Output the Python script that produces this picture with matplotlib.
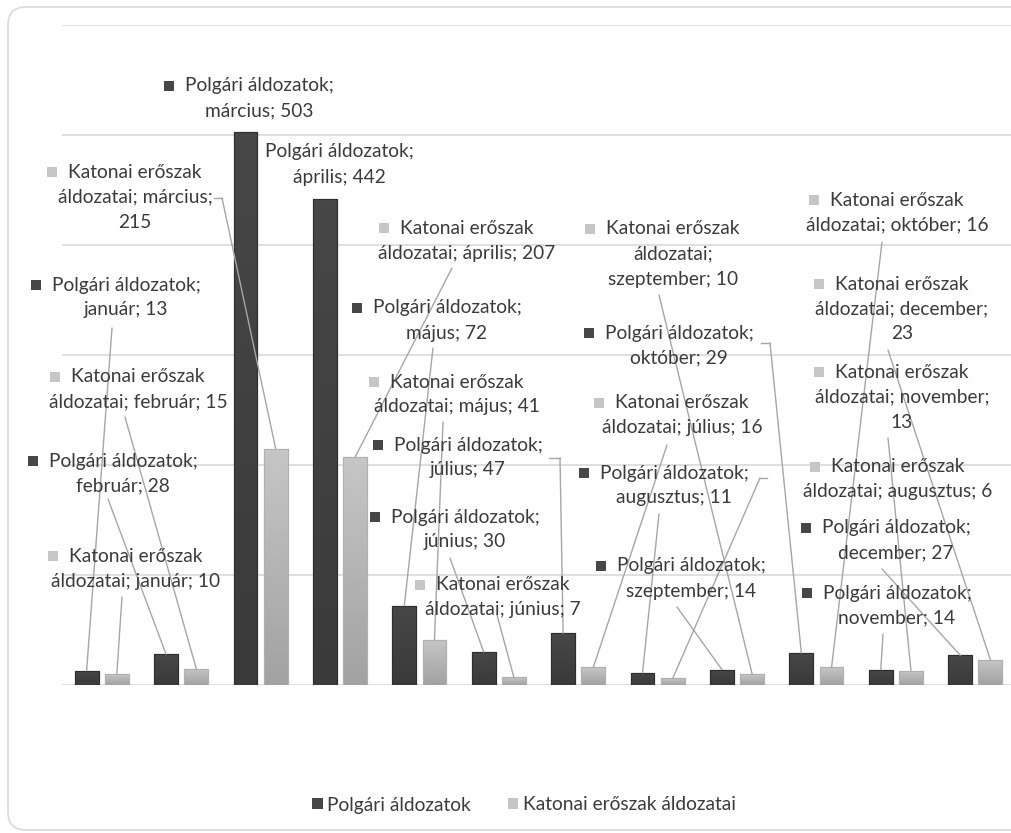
import numpy as np
import matplotlib
matplotlib.use('Agg')
import matplotlib.pyplot as plt
from matplotlib.patches import Rectangle, Patch, ConnectionPatch, PathPatch
from matplotlib.path import Path
from matplotlib.lines import Line2D
from matplotlib.colors import LinearSegmentedColormap
from matplotlib.transforms import IdentityTransform

plt.rcParams['font.family'] = ['Lato', 'DejaVu Sans']

months = ['január', 'február', 'március', 'április', 'május', 'június',
          'július', 'augusztus', 'szeptember', 'október', 'november', 'december']
series_names = ['Polgári áldozatok', 'Katonai erőszak áldozatai']
polgari = [13, 28, 503, 442, 72, 30, 47, 11, 14, 29, 14, 27]
katonai = [10, 15, 215, 207, 41, 7, 16, 6, 10, 16, 13, 23]
y_ticks = [0, 100, 200, 300, 400, 500, 600]

W, H = 1012, 833
TXT = '#3b3b3b'
LEAD = '#a6a6a6'
colors = {0: ('#474747', '#3a3a3a', '#2e2e2e'),   # top, bottom, edge
          1: ('#c6c6c6', '#a2a2a2', '#b0b0b0')}

# label layout in image pixels (from top-left):
# series, month, text center x, first line y, words per line break, leader start, hook start
labels = [
    (0, 2, 259, 86, (2,), None, None),
    (1, 2, 135, 172, (2, 4), (222, 198), (214, 198)),
    (0, 3, 339, 152, (2,), None, None),
    (1, 3, 467, 228, (2,), (452, 268), None),
    (0, 4, 447, 308, (2,), (433, 348), None),
    (1, 4, 457, 382, (2,), (443, 422), None),
    (0, 6, 468, 445, (2,), (560, 458), (549, 458)),
    (0, 5, 465, 517, (2,), (450, 558), None),
    (1, 5, 503, 585, (2,), (497, 615), None),
    (1, 8, 673, 229, (2, 3), (659, 295), None),
    (0, 9, 679, 333, (2,), (770, 343), (761, 343)),
    (1, 6, 682, 403, (2,), (667, 445), None),
    (0, 7, 674, 473, (2,), (659, 514), None),
    (1, 7, 898, 467, (2,), (760, 478), (767, 478)),
    (0, 8, 691, 566, (2,), (677, 607), None),
    (1, 9, 897, 200, (2,), (882, 242), None),
    (1, 11, 902, 284, (2, 4), (888, 350), None),
    (1, 10, 902, 372, (2, 4), (888, 438), None),
    (0, 11, 896, 528, (2,), (882, 569), None),
    (0, 10, 897, 593, (2,), (883, 634), None),
    (0, 0, 126, 285, (2,), (112, 328), None),
    (1, 1, 138, 377, (2,), (125, 417), None),
    (0, 1, 123, 461, (2,), (108, 499), None),
    (1, 0, 136, 556, (2,), (122, 597), None),
]


def px(x, y):
    return (x, H - y)


fig = plt.figure(figsize=(W / 100, H / 100), dpi=100)
fig.patch.set_facecolor('white')

# rounded chart frame, open at the right like the cropped original
l, t, b, rr = 8, 7, 830, 18
verts = [px(W + 20, t), px(l + rr, t), px(l, t), px(l, t + rr),
         px(l, b - rr), px(l, b), px(l + rr, b), px(W + 20, b)]
codes = [Path.MOVETO, Path.LINETO, Path.CURVE3, Path.CURVE3,
         Path.LINETO, Path.CURVE3, Path.CURVE3, Path.LINETO]
frame = PathPatch(Path(verts, codes), transform=IdentityTransform(),
                  facecolor='none', edgecolor='#d9d9d9', linewidth=1.2, zorder=-1)
fig.patches.append(frame)

ax = fig.add_axes([62 / W, (H - 685) / H, 953 / W, 660 / H])
ax.set_facecolor('none')
x = np.arange(len(months))
width = 0.30
offs = [-0.19, 0.19]
values = [polgari, katonai]

for s in range(2):
    top, bot, edge = colors[s]
    cmap = LinearSegmentedColormap.from_list('g%d' % s, [bot, top])
    bars = ax.bar(x + offs[s], values[s], width, color=top, edgecolor=edge,
                  linewidth=0.8, zorder=2)
    for bar in bars:
        x0, y0 = bar.get_x(), bar.get_y()
        grad = np.linspace(0, 1, 64).reshape(-1, 1)
        im = ax.imshow(grad, extent=[x0, x0 + bar.get_width(), y0, y0 + bar.get_height()],
                       origin='lower', aspect='auto', cmap=cmap, zorder=2.1)
        im.set_clip_path(bar)
    ax.bar(x + offs[s], values[s], width, facecolor='none', edgecolor=edge,
           linewidth=0.8, zorder=2.2)

ax.set_xlim(-0.5, len(months) - 0.5)
ax.set_ylim(0, 600)
ax.set_yticks(y_ticks)
ax.yaxis.grid(True, color='#d9d9d9', linewidth=1.2, zorder=0)
ax.set_axisbelow(True)
ax.tick_params(left=False, bottom=False, labelleft=False, labelbottom=False)
for sp in ax.spines.values():
    sp.set_visible(False)

# data labels
fs = 13.8
marker_items = []
for s, m, xc, y1, brk, lead, hook in labels:
    v = values[s][m]
    words = f'{series_names[s]}; {months[m]}; {v}'.split(' ')
    lines = []
    prev = 0
    for k in list(brk) + [len(words)]:
        lines.append(' '.join(words[prev:k]))
        prev = k
    first = None
    for i, line in enumerate(lines):
        txt = fig.text(xc / W, (H - (y1 + i * 25)) / H, line, ha='center', va='center',
                       fontsize=fs, color=TXT, zorder=5)
        if i == 0:
            first = txt
    marker_items.append((first, s, y1))
    if lead is not None:
        bar_x = m + offs[s]
        con = ConnectionPatch(xyA=px(*lead), coordsA='figure pixels',
                              xyB=(bar_x, v), coordsB=ax.transData,
                              color=LEAD, linewidth=1.0, zorder=4)
        fig.add_artist(con)
        if hook is not None:
            fig.add_artist(Line2D([hook[0] / W, lead[0] / W],
                                  [(H - hook[1]) / H, (H - lead[1]) / H],
                                  transform=fig.transFigure, color=LEAD,
                                  linewidth=1.0, zorder=4))

fig.canvas.draw()
r = fig.canvas.get_renderer()
for txt, s, y1 in marker_items:
    bb = txt.get_window_extent(renderer=r)
    top, bot, edge = colors[s]
    mx = bb.x0 - 21
    fig.patches.append(Rectangle((mx / W, (H - y1 - 5) / H), 10 / W, 10 / H,
                                 transform=fig.transFigure, facecolor=top,
                                 edgecolor='none', zorder=5))

handles = [Patch(facecolor=colors[s][0], edgecolor='none') for s in range(2)]
fig.legend(handles, series_names, loc='center', bbox_to_anchor=(524 / W, (H - 805) / H),
           ncol=2, frameon=False, fontsize=13.8, handlelength=0.55, handleheight=0.55,
           handletextpad=0.25, columnspacing=1.9, labelcolor=TXT)

fig.savefig('out.png', dpi=100, facecolor='white')
